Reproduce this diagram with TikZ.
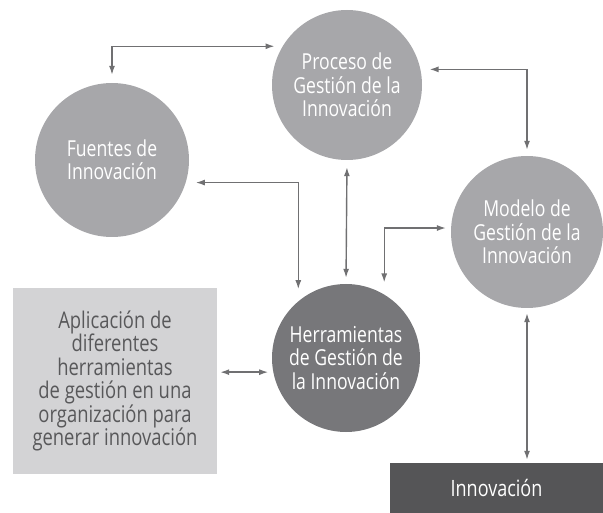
\documentclass[tikz,border=0pt]{standalone}
\usepackage{fontspec}
\setmainfont{Open Sans}[FakeStretch=0.8]
\usetikzlibrary{arrows.meta}
\definecolor{circgray}{HTML}{A7A7AA}
\definecolor{darkcirc}{HTML}{77777A}
\definecolor{boxgray}{HTML}{D3D3D5}
\definecolor{innovgray}{HTML}{555557}
\definecolor{linkgray}{HTML}{707072}
\definecolor{textgray}{HTML}{58585A}
\begin{document}
\begin{tikzpicture}[x=1pt, y=-1pt,
        circ/.style={circle, fill=circgray, text=white, minimum size=150pt, inner sep=0pt, align=center, font=\fontsize{22}{23.5}\selectfont},
        link/.style={draw=linkgray, line width=1.4pt, {Latex[length=9pt,width=6pt]}-{Latex[length=9pt,width=6pt]}}
    ]
        \useasboundingbox (0,0) rectangle (603,513);
        \node[circ](proceso) at (347, 85) {Proceso de\\Gestión de la\\Innovación};
        \node[circ, minimum size=154pt](fuentes) at (112, 160) {Fuentes de\\Innovación};
        \node[circ, minimum size=152pt](modelo) at (527, 232) {Modelo de\\Gestión de la\\Innovación};
        \node[circ, fill=darkcirc, minimum size=148pt](herram) at (346, 358) {Herramientas\\de Gestión de\\la Innovación};
        \node[fill=boxgray, text=textgray, minimum width=204pt, minimum height=186pt, align=center, font=\fontsize{23}{23.5}\selectfont](aplic) at (115, 381) {Aplicación de\\diferentes\\herramientas\\de gestión en una\\organización para\\generar innovación};
        \node[fill=innovgray, text=white, minimum width=213pt, minimum height=50pt, font=\fontsize{22.5}{23.5}\selectfont](innov) at (496.5, 488) {Innovación};
        \draw[link, shorten <=8pt, shorten >=8pt] (proceso.149) -| (fuentes.north);
        \draw[link, shorten <=9pt, shorten >=6pt] (proceso.12) -| (modelo.north);
        \draw[link, shorten <=10pt, shorten >=12pt] (fuentes.-17) -| (herram.130);
        \draw[link, shorten <=7pt, shorten >=6pt] (proceso.south) -- (herram.north);
        \draw[link, shorten <=12pt, shorten >=5pt] (herram.59) |- (modelo.177);
        \draw[link, shorten <=5pt, shorten >=3pt] (herram.191) -- (herram.191 -| aplic.east);
        \draw[link, shorten <=5pt, shorten >=3pt] (modelo.south) -- (modelo.south |- innov.north);
\end{tikzpicture}
\end{document}
